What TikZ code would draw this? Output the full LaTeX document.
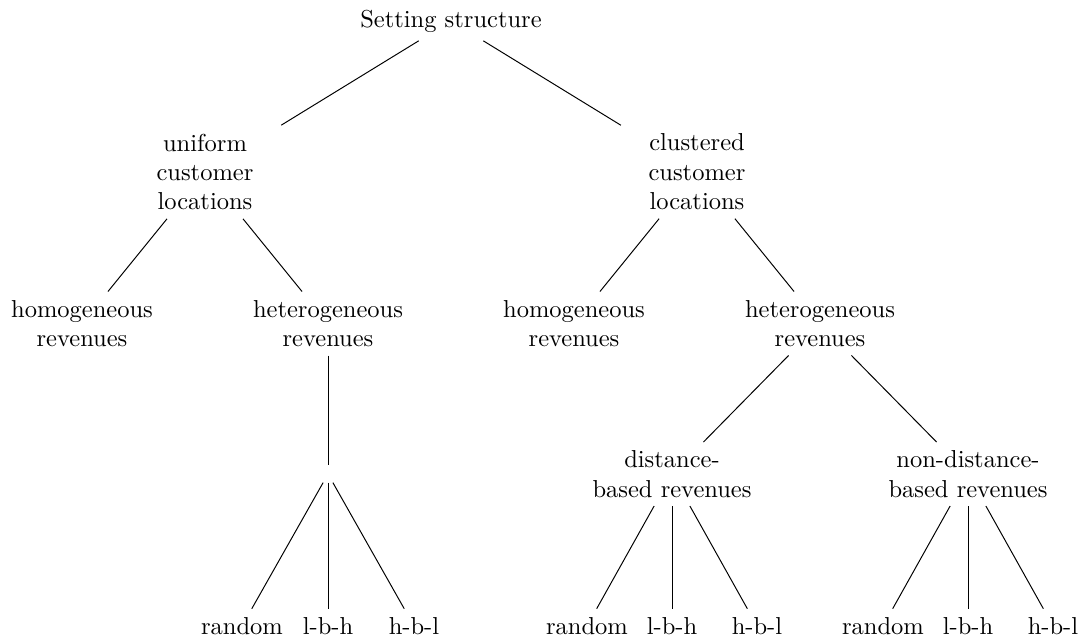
\documentclass[tikz,border=0pt]{standalone}
\usepackage{tikz}

\begin{document}
\begin{tikzpicture}[x=0.408pt, y=-0.408pt, every node/.style={align=center},
    location/.style={text width=2.4cm}]

            \useasboundingbox (0,0) rectangle (1084,642);

            \node (root) at (451,21) {Setting structure};

            \node[location] (uniform) at (205,172) {uniform\\customer\\locations};
            \node[location] (clustered) at (697,172) {clustered\\customer\\locations};

            \node (uhom) at (82,323.5) {homogeneous\\revenues};
            \node (uhet) at (328,323.5) {heterogeneous\\revenues};
            \node (chom) at (574,323.5) {homogeneous\\revenues};
            \node (chet) at (820,323.5) {heterogeneous\\revenues};

            \node (usplit) at (328,474) {};
            \node (dist) at (672,474) {distance-\\based revenues};
            \node (nondist) at (968,474) {non-distance-\\based revenues};

            \node (urand) at (242,626) {random};
            \node (ulbh) at (328,626) {l-b-h};
            \node (uhbl) at (414,626) {h-b-l};
            \node (drand) at (587,626) {random};
            \node (dlbh) at (672,626) {l-b-h};
            \node (dhbl) at (757,626) {h-b-l};
            \node (nrand) at (883,626) {random};
            \node (nlbh) at (968,626) {l-b-h};
            \node (nhbl) at (1053,626) {h-b-l};

            \draw (root) -- (uniform);
            \draw (root) -- (clustered);

            \draw (uniform) -- (uhom);
            \draw (uniform) -- (uhet);
            \draw (clustered) -- (chom);
            \draw (clustered) -- (chet);

            \draw (uhet) -- (usplit);
            \draw (chet) -- (dist);
            \draw (chet) -- (nondist);

            \draw (usplit) -- (urand);
            \draw (usplit) -- (ulbh);
            \draw (usplit) -- (uhbl);
            \draw (dist) -- (drand);
            \draw (dist) -- (dlbh);
            \draw (dist) -- (dhbl);
            \draw (nondist) -- (nrand);
            \draw (nondist) -- (nlbh);
            \draw (nondist) -- (nhbl);

          \end{tikzpicture}
\end{document}
